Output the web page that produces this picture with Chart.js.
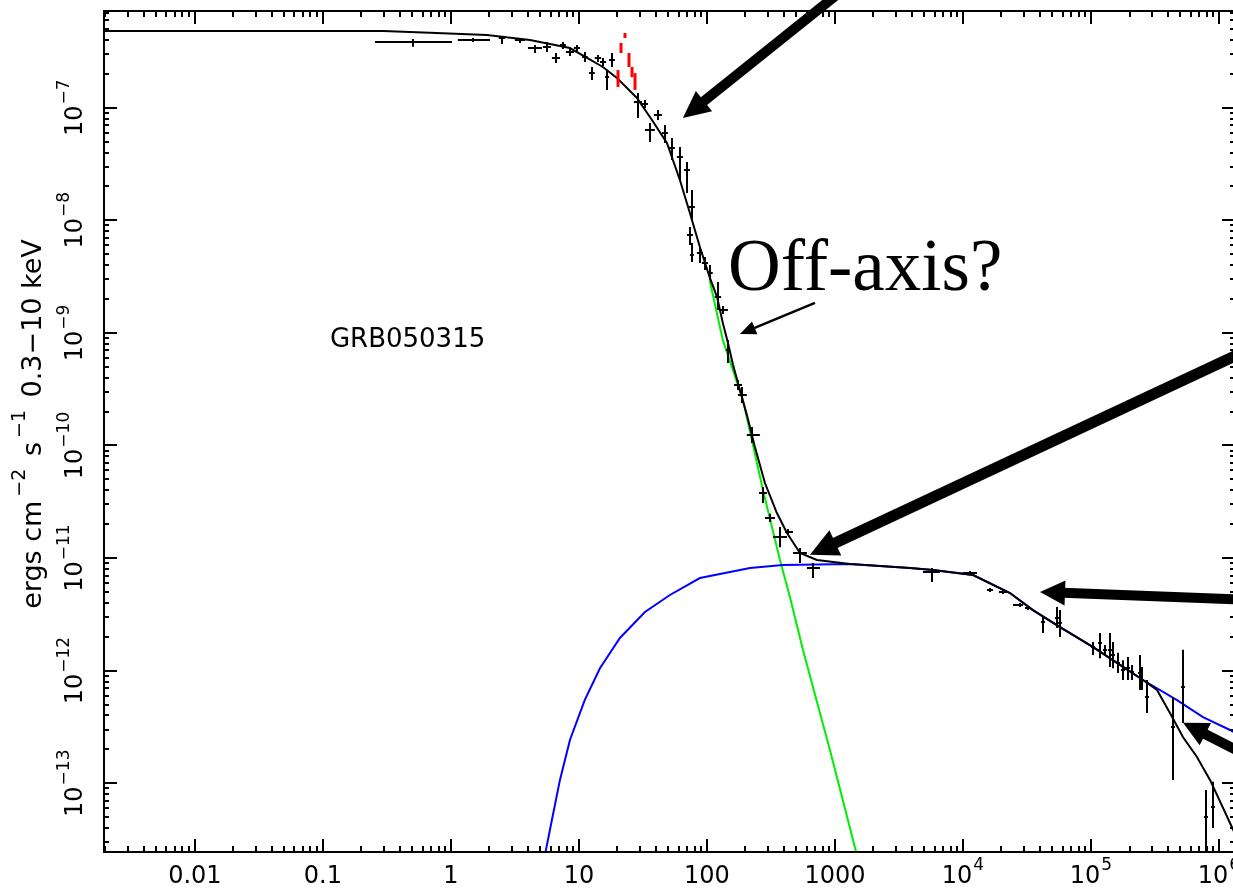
<!DOCTYPE html>
<html>
<head>
<meta charset="utf-8">
<script src="https://cdn.jsdelivr.net/npm/chart.js@4.4.1/dist/chart.umd.min.js"></script>
<style>
  html, body { margin: 0; padding: 0; background: #fff; overflow: hidden; }
  #wrap { width: 1240px; height: 891px; }
</style>
</head>
<body>
<div id="wrap"><canvas id="c" width="1240" height="891"></canvas></div>
<script>
// ---- GRB050315 light curve: flux (0.3-10 keV) versus time since trigger ----

// Axis ranges
const xRange = [0.00195, 1.334e6];
const yRange = [2.45e-14, 7.23e-7];

// Tick labels
const xTickValues = [0.01, 0.1, 1, 10, 100, 1000, 1e4, 1e5, 1e6];
const xTickLabels = ["0.01", "0.1", "1", "10", "100", "1000", "10^4", "10^5", "10^6"];
const yTickValues = [1e-13, 1e-12, 1e-11, 1e-10, 1e-9, 1e-8, 1e-7];
const yTickLabels = ["10^-13", "10^-12", "10^-11", "10^-10", "10^-9", "10^-8", "10^-7"];

// Total model (black)
const modelX = [0.00195, 0.294, 0.685, 1.91, 4.14, 8.5, 15.4, 19.8, 28.4, 37.2, 48.7, 61.5, 73.6, 88.1, 105,
  120, 133, 146, 160, 181, 205, 237, 284, 352, 422, 533, 723, 1309, 3855, 5830, 12000, 23300, 35200, 57300,
  104000, 178000, 255000, 328000, 414000, 523000, 673000, 851000, 1220000, 1380000];
const modelY = [4.80e-7, 4.80e-7, 4.63e-7, 4.42e-7, 3.99e-7, 3.39e-7, 2.30e-7, 1.84e-7, 1.22e-7, 7.78e-8,
  4.86e-8, 2.28e-8, 1.16e-8, 5.79e-9, 3.13e-9, 2.08e-9, 1.23e-9, 8.15e-10, 5.19e-10, 3.11e-10, 1.87e-10,
  9.70e-11, 4.64e-11, 2.51e-11, 1.67e-11, 1.11e-11, 9.61e-12, 8.85e-12, 8.16e-12, 7.83e-12, 7.07e-12,
  4.89e-12, 3.45e-12, 2.44e-12, 1.62e-12, 1.08e-12, 8.26e-13, 6.73e-13, 4.20e-13, 2.57e-13, 1.71e-13,
  1.07e-13, 4.43e-14, 3.27e-14];

// Afterglow component (blue)
const afterglowX = [5.33, 6.15, 7.11, 8.51, 11.1, 14.6, 20.9, 32.8, 51.4, 88.1, 217, 392, 1309, 3855, 5830,
  12000, 23300, 35200, 57300, 104000, 178000, 255000, 470000, 750000, 1220000, 1380000];
const afterglowY = [2.08e-14, 4.72e-14, 1.07e-13, 2.42e-13, 5.48e-13, 1.05e-12, 1.95e-12, 3.32e-12, 4.70e-12,
  6.65e-12, 8.16e-12, 8.68e-12, 8.85e-12, 8.16e-12, 7.83e-12, 7.07e-12, 4.89e-12, 3.45e-12, 2.44e-12,
  1.62e-12, 1.08e-12, 8.26e-13, 5.48e-13, 3.87e-13, 2.97e-13, 2.74e-13];

// Prompt tail component (green)
const tailX = [105, 133, 191, 274, 372, 445, 562, 914, 1460, 1567];
const tailY = [2.94e-9, 8.66e-10, 2.54e-10, 4.03e-11, 9.61e-12, 4.51e-12, 1.53e-12, 1.97e-13, 2.47e-14, 1.70e-14];

// BAT points (red)
const batX = [20.2, 21.3, 22.9, 24.6, 25.9, 27.4];
const batY = [1.84e-7, 3.39e-7, 4.38e-7, 2.65e-7, 2.07e-7, 1.69e-7];
const batLo = [1.53e-7, 3.06e-7, 4.16e-7, 2.30e-7, 1.87e-7, 1.44e-7];
const batHi = [2.16e-7, 3.76e-7, 4.61e-7, 3.06e-7, 2.30e-7, 2.03e-7];

// XRT points (black crosses)
const xrtX = [0.505, 1.486, 2.50, 3.46, 4.53, 5.62, 6.61, 7.50, 8.51, 9.65, 11.1, 12.6, 14.1, 15.4, 16.6, 18.1,
  28.9, 32.8, 35.9, 41.4, 47.0, 53.3, 61.5, 69.8, 76.3, 73.6, 76.3, 88.1, 96.4, 105, 122, 133, 146, 175, 188,
  225, 274, 310, 372, 430, 533, 673, 5730, 11350, 16250, 20540, 27870, 32200, 42170, 54240, 57280, 103700,
  117500, 128600, 140600, 148600, 162600, 177800, 194500, 208900, 241500, 250000, 273800, 437500, 523600,
  790700, 897500];
const xrtXLo = [0.255, 1.134, 2.37, 3.16, 4.00, 5.23, 6.15, 7.11, 7.91, 9.14, 10.6, 12.0, 13.3, 14.6, 16.0, 17.2,
  26.9, 31.1, 32.8, 38.5, 44.5, 50.5, 58.3, 66.1, 72.3, 69.8, 73.6, 83.5, 91.4, 102, 115, 124, 141, 163, 175,
  205, 255, 284, 328, 407, 470, 604, 4870, 10000, 15400, 19100, 24600, 30500, 40660, 52340, 55220, 100000,
  113500, 124100, 135800, 143200, 156700, 171400, 187500, 201800, 232800, 241500, 264200, 421700, 504700,
  763800, 865900];
const xrtXHi = [1.02, 2.02, 2.64, 3.79, 5.14, 6.04, 7.11, 7.91, 9.14, 10.2, 11.7, 13.3, 14.9, 16.3, 17.2, 19.1,
  31.1, 34.6, 39.2, 44.5, 49.6, 56.2, 64.9, 73.6, 80.5, 77.8, 79.1, 93.1, 102, 111, 129, 146, 151, 188, 205,
  259, 294, 340, 422, 470, 604, 764, 6610, 12850, 17150, 22080, 29430, 33970, 43750, 56230, 59290, 107400,
  121900, 133400, 145900, 154000, 168600, 184500, 201800, 216800, 250000, 259400, 283800, 452900, 542000,
  820400, 931000];
const xrtY = [3.85e-7, 3.99e-7, 4.16e-7, 3.99e-7, 3.39e-7, 3.46e-7, 2.76e-7, 3.60e-7, 3.12e-7, 3.39e-7, 2.82e-7,
  2.03e-7, 2.76e-7, 2.55e-7, 1.87e-7, 2.65e-7, 1.12e-7, 1.08e-7, 6.34e-8, 8.61e-8, 5.96e-8, 4.39e-8, 3.65e-8,
  2.80e-8, 1.31e-8, 7.40e-9, 4.92e-9, 5.13e-9, 4.18e-9, 3.40e-9, 2.08e-9, 1.60e-9, 7.05e-10, 3.44e-10,
  2.81e-10, 1.24e-10, 3.79e-11, 2.27e-11, 1.54e-11, 1.71e-11, 1.11e-11, 8.16e-12, 7.52e-12, 7.36e-12,
  5.20e-12, 4.99e-12, 3.83e-12, 3.60e-12, 2.70e-12, 2.93e-12, 2.65e-12, 1.62e-12, 1.76e-12, 1.53e-12,
  1.53e-12, 1.38e-12, 1.17e-12, 1.01e-12, 1.05e-12, 9.72e-13, 9.52e-13, 8.26e-13, 5.83e-13, 3.15e-13,
  7.16e-13, 5.01e-14, 6.15e-14];
const xrtYLo = [3.48e-7, 3.83e-7, 3.68e-7, 3.76e-7, 3.06e-7, 3.12e-7, 2.49e-7, 3.32e-7, 2.88e-7, 3.12e-7, 2.55e-7,
  1.76e-7, 2.55e-7, 2.35e-7, 1.44e-7, 2.30e-7, 8.10e-8, 9.94e-8, 4.95e-8, 7.78e-8, 4.86e-8, 3.43e-8, 2.28e-8,
  1.75e-8, 1.006e-8, 6.04e-9, 4.27e-9, 4.18e-9, 3.62e-9, 2.95e-9, 1.60e-9, 1.47e-9, 5.41e-10, 3.11e-10,
  2.39e-10, 1.05e-10, 3.09e-11, 2.09e-11, 1.25e-11, 1.60e-11, 9.04e-12, 6.65e-12, 6.12e-12, 7.07e-12,
  4.99e-12, 4.79e-12, 3.67e-12, 3.46e-12, 2.16e-12, 2.39e-12, 1.99e-12, 1.38e-12, 1.29e-12, 1.38e-12,
  1.08e-12, 1.05e-12, 9.52e-13, 8.26e-13, 8.26e-13, 8.26e-13, 6.73e-13, 6.73e-13, 4.20e-13, 1.07e-13,
  3.42e-13, 2.08e-14, 4.00e-14];
const xrtYHi = [4.07e-7, 4.16e-7, 4.25e-7, 4.16e-7, 3.60e-7, 3.83e-7, 3.06e-7, 3.83e-7, 3.39e-7, 3.60e-7, 3.12e-7,
  2.30e-7, 2.94e-7, 2.76e-7, 2.16e-7, 3.06e-7, 1.35e-7, 1.17e-7, 7.31e-8, 9.54e-8, 7.02e-8, 5.38e-8, 4.48e-8,
  3.30e-8, 1.86e-8, 8.72e-9, 6.29e-9, 5.79e-9, 4.72e-9, 4.01e-9, 2.83e-9, 1.73e-9, 8.65e-10, 3.82e-10,
  3.31e-10, 1.46e-10, 4.28e-11, 2.47e-11, 1.89e-11, 1.81e-11, 1.23e-11, 9.04e-12, 8.16e-12, 7.67e-12,
  5.42e-12, 5.20e-12, 3.98e-12, 3.75e-12, 2.99e-12, 3.67e-12, 3.46e-12, 1.80e-12, 2.16e-12, 1.69e-12,
  2.16e-12, 1.80e-12, 1.44e-12, 1.24e-12, 1.32e-12, 1.12e-12, 1.38e-12, 1.08e-12, 8.26e-13, 5.83e-13,
  1.53e-12, 8.71e-14, 1.03e-13];

// Annotation arrows, anchored in data coordinates (tail -> tip)
const arrows = [
  { tail: [1286, 1.23e-6], tip: [64.9, 8.10e-8], shaft: 10, headLen: 27, headHalf: 13 },
  { tail: [1.75e6, 7.20e-10], tip: [638, 1.07e-11], shaft: 11, headLen: 28, headHalf: 14 },
  { tail: [1.75e6, 4.25e-12], tip: [4.0e4, 5.0e-12], shaft: 10, headLen: 25, headHalf: 12.5 },
  { tail: [1.75e6, 1.71e-13], tip: [5.24e5, 3.44e-13], shaft: 10, headLen: 25, headHalf: 12.5 },
  { tail: [698, 1.85e-9], tip: [181, 9.77e-10], shaft: 2.5, headLen: 16, headHalf: 7 }
];

// Text annotations, anchored in data coordinates
const notes = [
  { text: "GRB050315", at: [0.1135, 8.65e-10], font: '26px "DejaVu Sans"', baseline: 'middle' },
  { text: "Off-axis?", at: [146, 2.38e-9], font: '73px "Liberation Serif"', baseline: 'alphabetic' }
];

const yTitle = [
  { t: "ergs cm" }, { t: "\u22122", sup: true }, { t: " s" }, { t: "\u22121", sup: true }, { t: " 0.3\u221210 keV" }
];

// ---- helpers ----
const FONT = '"DejaVu Sans"';
function supText(ctx, label, cx, cy, size, supSize, rise) {
  const parts = label.split('^');
  const base = parts[0];
  const exp = parts[1] ? parts[1].replace('-', '\u2212') : '';
  ctx.font = `${size}px ${FONT}`;
  const wb = ctx.measureText(base).width;
  ctx.font = `${supSize}px ${FONT}`;
  const we = exp ? ctx.measureText(exp).width + 1 : 0;
  const x0 = cx - (wb + we) / 2;
  ctx.textAlign = 'left';
  ctx.textBaseline = 'middle';
  ctx.font = `${size}px ${FONT}`;
  ctx.fillText(base, x0, cy);
  if (exp) {
    ctx.font = `${supSize}px ${FONT}`;
    ctx.fillText(exp, x0 + wb + 1, cy - rise);
  }
}

function logTicks(min, max) {
  const out = [];
  for (let d = Math.floor(Math.log10(min)); d <= Math.ceil(Math.log10(max)); d++) {
    for (let m = 1; m <= 9; m++) {
      const v = m * Math.pow(10, d);
      if (v >= min * 0.9999 && v <= max * 1.0001) out.push({ v, major: m === 1 });
    }
  }
  return out;
}

// Frame, inward ticks on all four sides, tick labels and axis title
const framePlugin = {
  id: 'frame',
  afterDraw(chart) {
    const { ctx, chartArea: a, scales: { x, y } } = chart;
    ctx.save();
    ctx.strokeStyle = '#000';
    ctx.fillStyle = '#000';
    ctx.lineWidth = 2;
    ctx.strokeRect(a.left, a.top, a.right - a.left, a.bottom - a.top);

    ctx.beginPath();
    logTicks(xRange[0], xRange[1]).forEach(t => {
      const px = Math.round(x.getPixelForValue(t.v));
      const len = t.major ? 13 : 6;
      ctx.moveTo(px, a.bottom); ctx.lineTo(px, a.bottom - len);
      ctx.moveTo(px, a.top); ctx.lineTo(px, a.top + len);
    });
    logTicks(yRange[0], yRange[1]).forEach(t => {
      const py = Math.round(y.getPixelForValue(t.v));
      const len = t.major ? 13 : 5;
      ctx.moveTo(a.left, py); ctx.lineTo(a.left + len, py);
      ctx.moveTo(a.right, py); ctx.lineTo(a.right - len, py);
    });
    ctx.stroke();

    xTickValues.forEach((v, i) => {
      supText(ctx, xTickLabels[i], x.getPixelForValue(v), a.bottom + 25, 24, 17, 11);
    });
    yTickValues.forEach((v, i) => {
      ctx.save();
      ctx.translate(a.left - 28, y.getPixelForValue(v));
      ctx.rotate(-Math.PI / 2);
      supText(ctx, yTickLabels[i], 0, 0, 24, 17, 11);
      ctx.restore();
    });

    // y-axis title
    ctx.save();
    ctx.translate(34, 424);
    ctx.rotate(-Math.PI / 2);
    const big = 27, small = 19, pad = 4;
    let total = 0;
    yTitle.forEach(p => {
      ctx.font = `${p.sup ? small : big}px ${FONT}`;
      p.w = ctx.measureText(p.t).width + (p.sup ? 2 * pad : 0);
      total += p.w;
    });
    let cx = -total / 2;
    ctx.textAlign = 'left';
    ctx.textBaseline = 'middle';
    yTitle.forEach(p => {
      ctx.font = `${p.sup ? small : big}px ${FONT}`;
      ctx.fillText(p.t, cx + (p.sup ? pad : 0), p.sup ? -14 : 0);
      cx += p.w;
    });
    ctx.restore();
    ctx.restore();
  }
};

// Error bars for the data points
const errorBarPlugin = {
  id: 'errorBars',
  afterDatasetsDraw(chart) {
    const { ctx, chartArea: a, scales: { x, y } } = chart;
    ctx.save();
    ctx.beginPath();
    ctx.rect(a.left, a.top, a.right - a.left, a.bottom - a.top);
    ctx.clip();
    chart.data.datasets.forEach(ds => {
      if (!ds.errorBarWidth) return;
      ctx.strokeStyle = ds.borderColor;
      ctx.lineWidth = ds.errorBarWidth;
      ds.data.forEach(p => {
        const px = Math.round(x.getPixelForValue(p.x));
        const py = Math.round(y.getPixelForValue(p.y));
        ctx.beginPath();
        if (p.xMin != null) {
          ctx.moveTo(x.getPixelForValue(p.xMin), py);
          ctx.lineTo(x.getPixelForValue(p.xMax), py);
        }
        ctx.moveTo(px, y.getPixelForValue(p.yMin));
        ctx.lineTo(px, y.getPixelForValue(p.yMax));
        ctx.stroke();
      });
    });
    ctx.restore();
  }
};

// Arrows and free text
const notesPlugin = {
  id: 'notes',
  afterDraw(chart) {
    const { ctx, scales: { x, y } } = chart;
    ctx.save();
    ctx.fillStyle = '#000';
    ctx.strokeStyle = '#000';
    arrows.forEach(ar => {
      const tx = x.getPixelForValue(ar.tail[0]), ty = y.getPixelForValue(ar.tail[1]);
      const hx = x.getPixelForValue(ar.tip[0]), hy = y.getPixelForValue(ar.tip[1]);
      const L = Math.hypot(tx - hx, ty - hy);
      const ux = (tx - hx) / L, uy = (ty - hy) / L;
      const bx = hx + ux * ar.headLen, by = hy + uy * ar.headLen;
      ctx.lineWidth = ar.shaft;
      ctx.lineCap = 'butt';
      ctx.beginPath();
      ctx.moveTo(tx, ty);
      ctx.lineTo(bx + ux * -2, by + uy * -2);
      ctx.stroke();
      ctx.beginPath();
      ctx.moveTo(hx, hy);
      ctx.lineTo(bx - uy * ar.headHalf, by + ux * ar.headHalf);
      ctx.lineTo(bx + uy * ar.headHalf, by - ux * ar.headHalf);
      ctx.closePath();
      ctx.fill();
    });
    notes.forEach(n => {
      ctx.font = n.font;
      ctx.textAlign = 'left';
      ctx.textBaseline = n.baseline;
      ctx.fillText(n.text, x.getPixelForValue(n.at[0]), y.getPixelForValue(n.at[1]));
    });
    ctx.restore();
  }
};

const pairs = (xs, ys) => xs.map((v, i) => ({ x: v, y: ys[i] }));

const xrtPoints = xrtX.map((v, i) => ({
  x: v, y: xrtY[i], xMin: xrtXLo[i], xMax: xrtXHi[i], yMin: xrtYLo[i], yMax: xrtYHi[i]
}));
const batPoints = batX.map((v, i) => ({ x: v, y: batY[i], yMin: batLo[i], yMax: batHi[i] }));

new Chart(document.getElementById('c'), {
  type: 'scatter',
  data: {
    datasets: [
      { label: 'XRT', data: xrtPoints, borderColor: '#000000', backgroundColor: '#000000',
        pointRadius: 0, showLine: false, errorBarWidth: 2, order: 0 },
      { label: 'BAT', data: batPoints, borderColor: '#ff0000', backgroundColor: '#ff0000',
        pointRadius: 0, showLine: false, errorBarWidth: 3, order: 0 },
      { label: 'model', data: pairs(modelX, modelY), borderColor: '#000000', borderWidth: 2,
        showLine: true, pointRadius: 0, tension: 0, order: 1 },
      { label: 'afterglow', data: pairs(afterglowX, afterglowY), borderColor: '#0000ff', borderWidth: 2,
        showLine: true, pointRadius: 0, tension: 0, order: 2 },
      { label: 'tail', data: pairs(tailX, tailY), borderColor: '#00ee00', borderWidth: 2,
        showLine: true, pointRadius: 0, tension: 0, order: 3 }
    ]
  },
  options: {
    responsive: false,
    devicePixelRatio: 1,
    animation: false,
    events: [],
    layout: { padding: { left: 104, top: 11, right: 5, bottom: 39 } },
    plugins: { legend: { display: false }, tooltip: { enabled: false } },
    scales: {
      x: { type: 'logarithmic', min: xRange[0], max: xRange[1], display: false },
      y: { type: 'logarithmic', min: yRange[0], max: yRange[1], display: false }
    }
  },
  plugins: [errorBarPlugin, framePlugin, notesPlugin]
});
</script>
</body>
</html>
